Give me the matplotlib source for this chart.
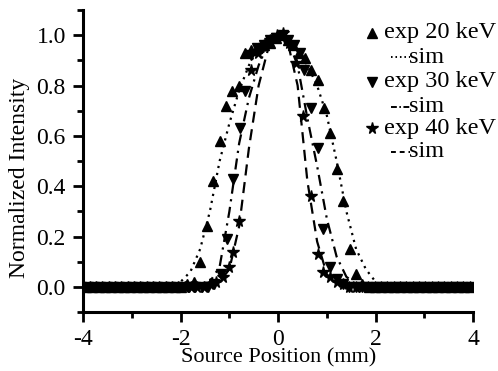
import numpy as np
import matplotlib
matplotlib.use("Agg")
import matplotlib.pyplot as plt
from matplotlib.lines import Line2D
from matplotlib.ticker import MultipleLocator

plt.rcParams["font.family"] = "Liberation Serif"
plt.rcParams["axes.unicode_minus"] = False

# experimental points, peak region (mm, normalized)
e20_x = [-1.86, -1.73, -1.60, -1.46, -1.33, -1.20, -1.07, -0.94, -0.81, -0.69,
         -0.56, -0.43, -0.30, -0.17, -0.04, 0.09, 0.21, 0.31, 0.42, 0.55,
         0.68, 0.81, 0.94, 1.07, 1.21, 1.34, 1.47, 1.60, 1.73, 1.86]
e20_y = [0.01, 0.02, 0.10, 0.24, 0.42, 0.58, 0.72, 0.78, 0.80, 0.93,
         0.94, 0.95, 0.96, 0.97, 0.99, 1.00, 0.98, 0.96, 0.93, 0.91,
         0.86, 0.82, 0.71, 0.61, 0.47, 0.34, 0.15, 0.05, 0.01, 0.00]

e30_x = [-1.44, -1.31, -1.18, -1.05, -0.92, -0.78, -0.68, -0.56, -0.43, -0.30,
         -0.17, -0.04, 0.09, 0.20, 0.32, 0.44, 0.54, 0.68, 0.81, 0.93,
         1.07, 1.20, 1.33, 1.46]
e30_y = [0.00, 0.01, 0.05, 0.19, 0.43, 0.63, 0.78, 0.92, 0.95, 0.96,
         0.98, 0.99, 1.00, 0.98, 0.96, 0.93, 0.86, 0.71, 0.55, 0.23,
         0.08, 0.03, 0.01, 0.00]

e40_x = [-1.40, -1.27, -1.14, -1.01, -0.92, -0.81, -0.55, -0.42, -0.29, -0.16,
         -0.03, 0.10, 0.23, 0.37, 0.51, 0.68, 0.82, 0.93, 1.06, 1.20, 1.33]
e40_y = [0.01, 0.02, 0.04, 0.08, 0.14, 0.26, 0.86, 0.93, 0.96, 0.98,
         1.00, 1.01, 0.97, 0.89, 0.68, 0.36, 0.13, 0.06, 0.04, 0.02, 0.01]

# simulated curves
s20_x = [-4.0, -2.2, -2.0, -1.8, -1.6, -1.4, -1.2, -1.0, -0.8, -0.6, -0.4, -0.2, 0.0,
         0.2, 0.4, 0.6, 0.8, 1.0, 1.2, 1.4, 1.6, 1.8, 2.0, 2.2, 4.0]
s20_y = [0.0, 0.0, 0.02, 0.06, 0.15, 0.30, 0.50, 0.65, 0.78, 0.88, 0.95, 0.99, 1.0,
         0.99, 0.95, 0.88, 0.80, 0.68, 0.50, 0.30, 0.15, 0.07, 0.02, 0.0, 0.0]

s30_x = [-4.0, -1.6, -1.4, -1.2, -1.0, -0.8, -0.6, -0.4, -0.2, 0.0,
         0.2, 0.4, 0.6, 0.8, 1.0, 1.2, 1.4, 1.6, 4.0]
s30_y = [0.0, 0.0, 0.02, 0.08, 0.30, 0.57, 0.75, 0.88, 0.97, 1.0,
         0.98, 0.88, 0.67, 0.48, 0.27, 0.12, 0.04, 0.01, 0.0]

s40_x = [-4.0, -1.4, -1.2, -1.0, -0.8, -0.6, -0.4, -0.2, 0.0,
         0.2, 0.4, 0.6, 0.8, 1.0, 1.2, 1.4, 4.0]
s40_y = [0.0, 0.0, 0.02, 0.07, 0.24, 0.55, 0.80, 0.95, 1.0,
         0.97, 0.80, 0.42, 0.18, 0.05, 0.01, 0.0, 0.0]


# pad an experimental series with the flat zero baseline it sits on
def with_baseline(xs, ys, step=0.13):
    left = np.arange(xs[0] - step, -4.05, -step)[::-1]
    right = np.arange(xs[-1] + step, 4.05, step)
    x = np.concatenate([left, xs, right])
    y = np.concatenate([np.zeros(len(left)), ys, np.zeros(len(right))])
    return x, y


fig = plt.figure(figsize=(4.98, 3.71), dpi=100)
ax = fig.add_axes([0.167, 0.159, 0.783, 0.814])

lw = 1.6
ax.plot(s20_x, s20_y, color="black", lw=lw, linestyle=(0, (1, 2.2)))
ax.plot(s30_x, s30_y, color="black", lw=lw, linestyle=(0, (5, 2.5, 1, 2.5)))
ax.plot(s40_x, s40_y, color="black", lw=lw, linestyle=(0, (5, 3)))

x, y = with_baseline(e20_x, e20_y)
ax.plot(x, y, "^", color="black", ms=7, ls="none")
x, y = with_baseline(e30_x, e30_y)
ax.plot(x, y, "v", color="black", ms=7, ls="none")
x, y = with_baseline(e40_x, e40_y)
ax.plot(x, y, "*", color="black", ms=8.5, ls="none")

ax.set_xlim(-4, 4)
ax.set_ylim(-0.1, 1.1)
ax.xaxis.set_minor_locator(MultipleLocator(1))
ax.yaxis.set_minor_locator(MultipleLocator(0.1))
ax.set_yticks([0.0, 0.2, 0.4, 0.6, 0.8, 1.0])
ax.set_yticklabels(["0.0", "0.2", "0.4", "0.6", "0.8", "1.0"])
ax.set_xticks([-4, -2, 0, 2, 4])
ax.set_xticklabels(["-4", "-2", "0", "2", "4"])

for side in ["top", "right"]:
    ax.spines[side].set_visible(False)
for side in ["left", "bottom"]:
    ax.spines[side].set_linewidth(2.2)

ax.tick_params(which="major", direction="out", length=7.5, width=2, labelsize=17)
ax.tick_params(which="minor", direction="out", length=4.5, width=2)
ax.tick_params(axis="x", which="major", pad=5)
ax.tick_params(axis="y", which="major", pad=5)

ax.set_xlabel("Source Position (mm)", fontsize=16)
ax.set_ylabel("Normalized Intensity", fontsize=17)
ax.xaxis.set_label_coords(0.5, -0.12)
ax.yaxis.set_label_coords(-0.136, 0.444)

# hand-placed legend in Origin style
tr = ax.transAxes
rows = [0.924, 0.844, 0.762, 0.679, 0.609, 0.530]
marks = [("^", 7, "exp 20 keV"), ("v", 7, "exp 30 keV"), ("*", 8.5, "exp 40 keV")]
styles = [(0, (0.8, 1.5)), (0, (3, 1.3, 0.8, 1.3)), (0, (2.5, 2))]
for i, (m, ms, lab) in enumerate(marks):
    ry = rows[2 * i]
    ax.add_line(Line2D([0.741], [ry], marker=m, ms=ms, color="black",
                       ls="none", transform=tr, clip_on=False))
    ax.text(0.772, ry, lab, transform=tr, fontsize=17.5, va="center", ha="left")
    ry = rows[2 * i + 1]
    ax.add_line(Line2D([0.79, 0.838], [ry, ry], color="black", lw=1.4,
                       ls=styles[i], transform=tr, clip_on=False))
    ax.text(0.836, ry, "sim", transform=tr, fontsize=17.5, va="center", ha="left")

fig.savefig("out.png", dpi=100)
